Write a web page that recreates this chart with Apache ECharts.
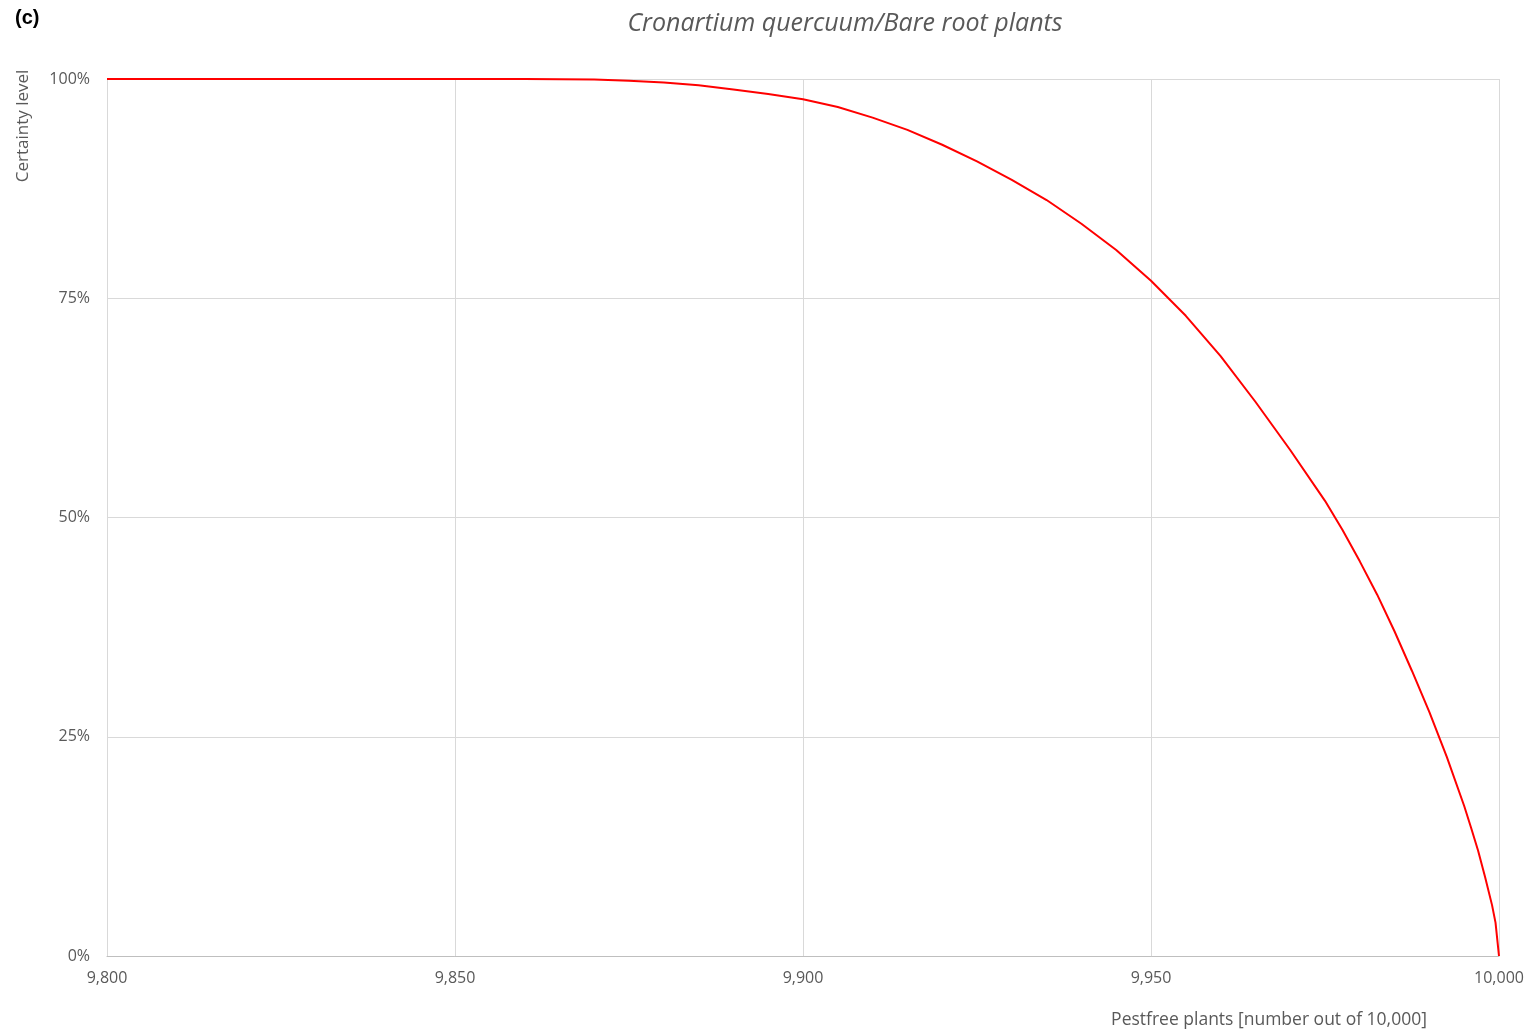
<!DOCTYPE html>
<html>
<head>
<meta charset="utf-8">
<title>Cronartium quercuum/Bare root plants</title>
<script src="https://cdn.jsdelivr.net/npm/echarts@6/dist/echarts.min.js"></script>
<style>
  html, body { margin: 0; padding: 0; background: #fff; }
  #chart { width: 1529px; height: 1031px; }
</style>
</head>
<body>
<div id="chart"></div>
<script>
// Number of pest-free plants out of 10,000
const pestfree = [9800, 9850, 9860, 9870, 9875, 9880, 9885, 9890, 9895, 9900,
  9905, 9910, 9915, 9920, 9925, 9930, 9935, 9940, 9945, 9950,
  9955, 9960, 9965, 9970, 9975, 9977.5, 9980, 9982.5, 9985, 9987.5,
  9990, 9992.5, 9995, 9996, 9997, 9998, 9999, 9999.5, 10000];
// Certainty level (%) that at least that many plants are pest free
const certainty = [100, 100, 100, 99.95, 99.8, 99.6, 99.3, 98.8, 98.3, 97.7,
  96.8, 95.6, 94.2, 92.5, 90.6, 88.5, 86.2, 83.5, 80.5, 77.0,
  73.0, 68.4, 63.2, 57.7, 51.9, 48.6, 45.0, 41.2, 37.0, 32.5,
  27.8, 22.7, 17.1, 14.6, 12.0, 9.0, 5.8, 3.8, 0];
const xTicks = [9800, 9850, 9900, 9950, 10000];
const yTicks = [0, 25, 50, 75, 100];

const points = pestfree.map((x, i) => [x, certainty[i]]);
const fmtThousands = v => v.toLocaleString('en-US');
const FONT = '"Open Sans", "Liberation Sans", sans-serif';

const chart = echarts.init(document.getElementById('chart'));
chart.setOption({
  animation: false,
  backgroundColor: '#ffffff',
  textStyle: { fontFamily: FONT },
  title: {
    text: 'Cronartium quercuum/Bare root plants',
    left: 840, top: 6, textAlign: 'center',
    textStyle: { fontFamily: FONT, fontStyle: 'italic', fontWeight: 'normal', fontSize: 25, color: '#595959' }
  },
  graphic: [
    { type: 'text', left: 15, top: 8,
      style: { text: '(c)', font: 'bold 20px "Liberation Sans", Arial, sans-serif', fill: '#000' } },
    { type: 'text', x: 32, y: 126, rotation: Math.PI / 2,
      style: { text: 'Certainty level', font: '17px ' + FONT, fill: '#595959',
               textAlign: 'center', textVerticalAlign: 'bottom' } },
    { type: 'text', x: 1269, y: 1020,
      style: { text: 'Pestfree plants [number out of 10,000]', font: '17.5px ' + FONT, fill: '#595959',
               textAlign: 'center', textVerticalAlign: 'middle' } }
  ],
  grid: { left: 107, right: 30, top: 79, bottom: 75, containLabel: false },
  xAxis: {
    type: 'value', min: xTicks[0], max: xTicks[xTicks.length - 1], interval: 50,
    axisLine: { show: true, lineStyle: { color: '#bfbfbf', width: 1 } },
    axisTick: { show: false },
    axisLabel: { color: '#595959', fontSize: 16, margin: 14, formatter: v => fmtThousands(v) },
    splitLine: { show: true, lineStyle: { color: '#d9d9d9', width: 1 } }
  },
  yAxis: {
    type: 'value', min: yTicks[0], max: yTicks[yTicks.length - 1], interval: 25,
    axisLine: { show: false },
    axisTick: { show: false },
    axisLabel: { color: '#595959', fontSize: 16, margin: 17, formatter: '{value}%' },
    splitLine: { show: true, lineStyle: { color: '#d9d9d9', width: 1 } }
  },
  series: [{
    type: 'line',
    data: points,
    showSymbol: false,
    smooth: false,
    lineStyle: { color: '#ff0000', width: 2 },
    z: 5
  }]
});
</script>
</body>
</html>
